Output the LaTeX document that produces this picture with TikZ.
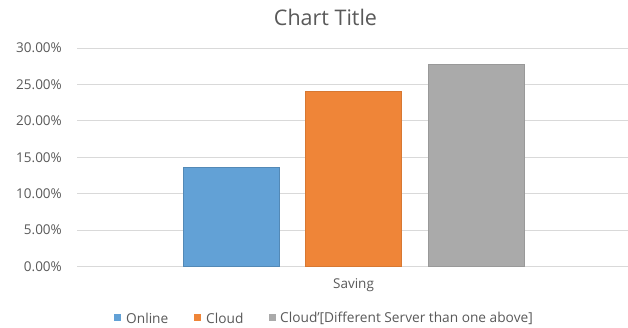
\documentclass[tikz,border=0pt]{standalone}
\usepackage{fontspec}
\setmainfont{Open Sans}
\definecolor{gridgray}{RGB}{217,217,217}
\definecolor{txtgray}{RGB}{89,89,89}
\definecolor{onlineblue}{RGB}{98,161,214}
\definecolor{cloudorange}{RGB}{239,133,56}
\definecolor{servergray}{RGB}{170,170,170}
\tikzset{
  ticklbl/.style={anchor=east,inner sep=0pt,text=txtgray,font=\fontsize{13.5}{15}\selectfont},
  legtxt/.style={anchor=west,inner sep=0pt,text=txtgray,font=\fontsize{13.7}{15}\selectfont},
  legkey/.style={minimum size=7pt,inner sep=0pt,anchor=west},
  bar/.style={line width=0.8pt}
}
\begin{document}
\begin{tikzpicture}[x=1pt,y=1pt]
\useasboundingbox (0,0) rectangle (628,328);

\node[text=txtgray,font=\fontsize{21.5}{24}\selectfont] (title) at (325.5,311) {Chart Title};

% value axis: 1 unit = 1 percent
\begin{scope}[shift={(0,61.5)},y=7.28pt]
\foreach \p in {0,5,...,30}{
  \draw[gridgray,line width=1.1pt] (77,\p) -- (628,\p);
  \node[ticklbl] (tick\p) at (62,\p) {\p.00\%};
}

\filldraw[bar,fill=onlineblue,draw=onlineblue!85!black] (183.3,0) rectangle (279,13.6);
\filldraw[bar,fill=cloudorange,draw=cloudorange!90!black] (305,0) rectangle (401.7,24.1);
\filldraw[bar,fill=servergray,draw=servergray!90!black] (428.3,0) rectangle (524.3,27.7);
\end{scope}

\node[text=txtgray,font=\fontsize{13.5}{15}\selectfont] (cat) at (353.5,43) {Saving};

% legend
\node[legkey,fill=onlineblue] (kon) at (113.5,10) {};
\node[legtxt] (lon) at (126,10) {Online};
\node[legkey,fill=cloudorange] (kcl) at (193.5,10) {};
\node[legtxt] (lcl) at (206,10) {Cloud};
\node[legkey,fill=servergray] (ksv) at (268.5,10) {};
\node[legtxt] (lsv) at (280,10) {Cloud'[Different Server than one above]};
\end{tikzpicture}
\end{document}
